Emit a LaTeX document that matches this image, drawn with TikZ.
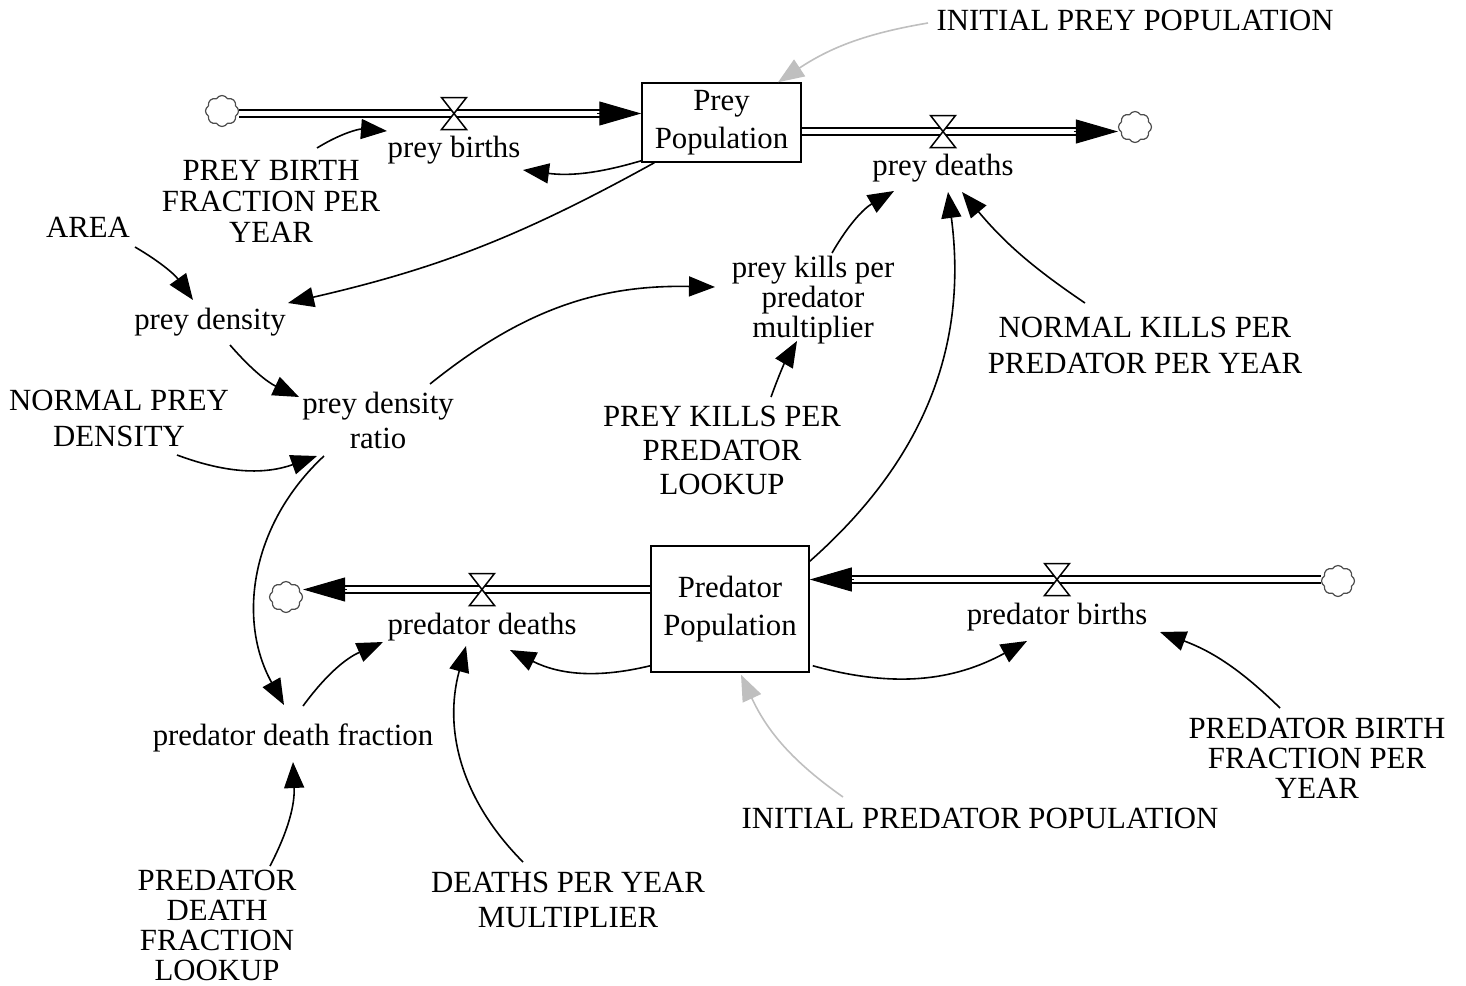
\documentclass[tikz,border=0pt]{standalone}
\usepackage{fontspec}
\setmainfont{Liberation Serif}
\usetikzlibrary{arrows.meta,shapes.symbols,calc}
\newcommand\valveat[1]{\draw[valveshape] ([shift={(-12.5,16)}]#1) -- ([shift={(12.5,16)}]#1) -- ([shift={(-12.5,-16)}]#1) -- ([shift={(12.5,-16)}]#1) -- cycle;}
\begin{document}
\begin{tikzpicture}[x=0.5pt,y=0.5pt,
 lbl/.style={inner sep=0pt, align=center, font=\fontsize{15.4}{17}\selectfont},
 bs/.style={font=\fontsize{15.4}{#1}\selectfont},
 stock/.style={draw, line width=0.75pt, inner sep=0pt, align=center},
 cloudn/.style={cloud, cloud puffs=8, cloud puff arc=120, aspect=1.05, draw=black!70, line width=0.6pt, minimum width=16.5pt, minimum height=15.5pt, inner sep=0pt},
 pipe/.style={draw=black, line width=1pt, double=white, double distance=2.5pt},
 flowhead/.style={-{Triangle[length=21pt,width=12pt]}, line width=0.5pt},
 valveshape/.style={draw=black, fill=white, line width=0.75pt, line join=miter},
 conn/.style={-{Triangle[length=13pt,width=10pt]}, line width=0.8pt},
 ghost/.style={conn, draw=black!25}]
\useasboundingbox (0,0) rectangle (1466,-985);

% stocks
\node[stock, minimum width=79.5pt, minimum height=39.5pt, bs=19] (prey) at (721.5,-122.5) {Prey\\Population};
\node[stock, minimum width=79pt, minimum height=63pt, bs=19] (pred) at (730,-609) {Predator\\Population};

% labels
\node[lbl] (ipp) at (1135,-20) {INITIAL PREY POPULATION};
\node[lbl] (pb) at (454,-150) {prey births};
\node[lbl] (pd) at (943,-168) {prey deaths};
\node[lbl, bs=15.5] (pbf) at (271,-201) {PREY BIRTH\\FRACTION PER\\YEAR};
\node[lbl] (area) at (88,-227) {AREA};
\node[lbl] (dens) at (210,-322) {prey density};
\node[lbl, bs=11.5] (pk) at (813,-300) {prey kills per\\predator\\multiplier};
\node[lbl, bs=18] (nk) at (1145,-345) {NORMAL KILLS PER\\PREDATOR PER YEAR};
\node[lbl, bs=18] (npd) at (119,-418) {NORMAL PREY\\DENSITY};
\node[lbl, bs=17.5] (pdr) at (378,-420) {prey density\\ratio};
\node[lbl, bs=17] (pkl) at (722,-450) {PREY KILLS PER\\PREDATOR\\LOOKUP};
\node[lbl] (prd) at (482,-627) {predator deaths};
\node[lbl] (prb) at (1057,-617) {predator births};
\node[lbl] (pdf) at (293,-738) {predator death fraction};
\node[lbl, bs=15] (prbf) at (1317,-758) {PREDATOR BIRTH\\FRACTION PER\\YEAR};
\node[lbl] (ipd) at (980,-818) {INITIAL PREDATOR POPULATION};
\node[lbl, bs=15] (pdfl) at (217,-925) {PREDATOR\\DEATH\\FRACTION\\LOOKUP};
\node[lbl, bs=17.5] (dpy) at (568,-900) {DEATHS PER YEAR\\MULTIPLIER};

% clouds and valves
\node[cloudn] (c1) at (222,-111) {};
\node[cloudn] (c2) at (1135,-127) {};
\node[cloudn] (c3) at (286,-597) {};
\node[cloudn] (c4) at (1338,-581) {};
\coordinate (v1) at (454,-113.5);
\coordinate (v2) at (943,-131.5);
\coordinate (v3) at (482,-589.5);
\coordinate (v4) at (1057,-579.5);

% flows
\coordinate (p1a) at (c1.east |- v1); \coordinate (p1b) at (prey.west |- v1);
\draw[pipe, shorten >=19pt] (p1a) -- (p1b);
\draw[flowhead] ($(p1b)+(-44,0)$) -- (p1b);
\coordinate (p2a) at (prey.east |- v2); \coordinate (p2b) at (c2.west |- v2);
\draw[pipe, shorten >=19pt] (p2a) -- (p2b);
\draw[flowhead] ($(p2b)+(-44,0)$) -- (p2b);
\coordinate (p3a) at (pred.west |- v3); \coordinate (p3b) at (c3.east |- v3);
\draw[pipe, shorten >=19pt] (p3a) -- (p3b);
\draw[flowhead] ($(p3b)+(44,0)$) -- (p3b);
\coordinate (p4a) at (c4.west |- v4); \coordinate (p4b) at (pred.east |- v4);
\draw[pipe, shorten >=19pt] (p4a) -- (p4b);
\draw[flowhead] ($(p4b)+(44,0)$) -- (p4b);
\valveat{v1}
\valveat{v2}
\valveat{v3}
\valveat{v4}

% connectors
\draw[ghost] ($(ipp)+(-207,-3)$) to[bend right=12] ($(prey.north)+(56.5,0)$);
\draw[conn] ($(prey.south west)+(0,2)$) to[bend left=12] ($(pb)+(69,-20)$);
\draw[conn] ($(pbf)+(46,53)$) to[bend left=18] ($(pb)+(-67,19)$);
\draw[conn] ($(prey.south west)+(13,0)$) to[bend left=8] ($(dens)+(78,19)$);
\draw[conn] ($(area)+(47,-20)$) to[bend left=12] ($(dens)+(-17,22)$);
\draw[conn] ($(dens)+(20,-23)$) to[bend right=12] ($(pdr)+(-79,23)$);
\draw[conn] ($(npd)+(58,-37)$) to[bend right=20] ($(pdr)+(-61,-36)$);
\draw[conn] ($(pdr)+(52,36)$) to[bend left=20] ($(pk)+(-98,13)$);
\draw[conn] ($(pk)+(19,47)$) to[bend left=15] ($(pd)+(-49,-23)$);
\draw[conn] ($(pkl)+(49,53)$) to[bend left=5] ($(pk)+(-16,-41)$);
\draw[conn] ($(pred.north east)+(0,-16)$) to[bend right=28] ($(pd)+(5,-24)$);
\draw[conn] ($(nk)+(-60,42)$) to[bend left=8] ($(pd)+(19,-24)$);
\draw[conn] ($(pred.south west)+(0,7)$) to[bend left=20] ($(prd)+(28,-23)$);
\draw[conn] ($(pdf)+(10,32)$) to[bend left=15] ($(prd)+(-99,-15)$);
\draw[conn] ($(pdr)+(-54,-36)$) to[bend right=38] ($(pdf)+(-9,33)$);
\draw[conn] ($(pdfl)+(53,59)$) to[bend right=15] ($(pdf)+(0,-24)$);
\draw[conn] ($(dpy)+(-45,38)$) to[bend left=30] ($(prd)+(-16,-19)$);
\draw[conn] ($(pred.south east)+(3,7)$) to[bend right=22] ($(prb)+(-30,-24)$);
\draw[conn] ($(prbf)+(-37,50)$) to[bend right=12] ($(prb)+(103,-15)$);
\draw[ghost] ($(ipd)+(-137,21)$) to[bend left=15] ($(pred.south)+(11,-2)$);
\end{tikzpicture}
\end{document}
